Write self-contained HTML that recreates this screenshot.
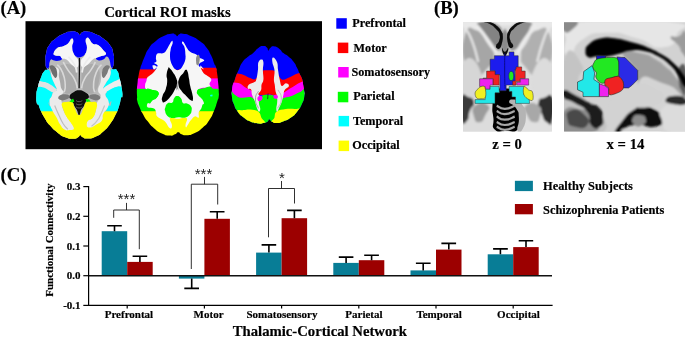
<!DOCTYPE html>
<html><head><meta charset="utf-8"><title>Figure</title>
<style>
html,body{margin:0;padding:0;background:#fff;}
body{width:685px;height:337px;overflow:hidden;font-family:"Liberation Serif",serif;}
svg{display:block;will-change:transform;}
text{font-family:"Liberation Serif",serif;font-weight:bold;fill:#000;stroke:#000;stroke-width:0.18px;}
.s{font-family:"Liberation Sans",sans-serif;font-weight:normal;fill:#222;stroke:none;}
</style></head><body>
<svg width="685" height="337" viewBox="0 0 685 337">
<rect width="685" height="337" fill="#fff"/>

<text x="0.5" y="14" font-size="18.6">(A)</text>
<text x="434" y="14.3" font-size="18.6">(B)</text>
<text x="0.5" y="181.4" font-size="18.8">(C)</text>
<text x="104.2" y="16.8" font-size="14.8">Cortical ROI masks</text>
<rect x="25.5" y="21.2" width="296.5" height="128" fill="#000"/>
<defs><filter id="bl" x="-5%" y="-5%" width="110%" height="110%"><feGaussianBlur stdDeviation="0.45"/></filter>
<clipPath id="c1"><path d="M79.7 34.8C77.9 34.8 80.1 33.5 77.0 32.3C74.0 31.2 74.9 31.0 70.5 31.4C66.1 31.9 68.7 31.4 63.9 33.6C59.1 35.9 60.8 34.5 56.0 38.2C51.2 42.0 52.7 39.9 49.5 44.8C46.2 49.7 47.5 47.6 46.2 53.0C44.9 58.3 45.4 55.8 45.5 60.8C45.6 65.9 45.4 65.8 46.6 68.1C47.7 70.4 48.6 67.3 48.9 67.8C49.3 68.3 49.2 68.5 47.6 69.6C46.0 70.8 46.5 68.4 44.2 71.2C41.9 74.0 42.9 72.8 40.8 78.0C38.7 83.3 39.4 81.1 37.9 87.0C36.4 92.8 36.6 89.8 36.3 95.5C36.0 101.2 36.3 101.0 37.0 104.0C37.6 107.1 37.0 102.2 38.3 104.6C39.6 106.9 38.7 106.5 40.9 111.1C43.1 115.7 41.8 113.5 44.9 118.4C47.9 123.2 45.9 120.9 50.1 125.6C54.3 130.3 52.3 128.6 57.3 132.4C62.4 136.3 60.0 135.1 65.2 137.2C70.5 139.3 68.8 138.7 73.1 138.7C77.4 138.7 75.7 138.3 78.1 137.2C80.5 136.0 78.8 135.3 80.3 135.3C81.8 135.3 80.2 136.1 82.6 137.2C85.0 138.2 83.3 138.6 87.6 138.5C91.8 138.3 90.2 139.1 95.4 136.8C100.7 134.4 98.5 135.7 103.3 131.5C108.1 127.3 105.9 129.8 109.9 124.3C113.9 118.8 112.3 121.2 115.4 115.1C118.5 108.9 117.2 111.6 119.1 105.9C121.0 100.2 120.0 101.2 121.1 98.0C122.2 94.8 122.2 99.4 122.4 96.2C122.6 92.9 122.6 94.0 121.7 88.3C120.8 82.6 121.3 84.9 119.7 79.1C118.2 73.2 119.3 73.9 117.1 70.7C115.0 67.4 115.3 70.2 113.3 69.4C111.3 68.5 111.4 68.7 111.2 68.0C111.0 67.4 111.9 69.8 112.8 67.4C113.7 65.0 113.7 65.7 113.8 60.8C114.0 56.0 114.5 58.2 113.2 53.0C111.9 47.7 113.2 49.9 109.9 45.1C106.6 40.3 108.1 42.2 103.3 38.5C98.5 34.8 100.7 36.2 95.4 33.9C90.2 31.6 91.9 32.1 87.6 31.5C83.2 31.0 84.9 31.2 82.3 32.3C79.7 33.4 81.4 34.8 79.7 34.8Z"/></clipPath>
</defs>
<g filter="url(#bl)">
<g clip-path="url(#c1)">
<rect x="30" y="25" width="100" height="120" fill="#bababa"/>
<rect x="30" y="25" width="100" height="44.5" fill="#0000ff"/>
<rect x="30" y="68.8" width="100" height="43" fill="#00ffff"/>
<rect x="30" y="111.3" width="100" height="40" fill="#ffff00"/>
<path d="M71.1 38.8C69.9 39.6 69.8 42.0 67.8 43.8C65.9 45.5 65.0 45.5 62.6 46.4C60.1 47.3 59.4 46.2 57.3 47.7C55.3 49.2 54.2 50.9 53.7 52.7C53.1 54.5 53.5 54.8 55.0 55.6C56.4 56.4 58.3 55.4 60.0 56.1C61.6 56.9 62.4 57.6 62.1 58.7C61.8 59.8 60.7 60.5 58.6 60.8C56.6 61.2 55.1 60.7 53.4 60.3C51.7 60.0 52.2 58.8 51.3 59.3C50.4 59.8 50.0 60.5 49.5 62.4C48.9 64.3 49.6 65.9 48.9 67.4C48.3 68.9 46.4 68.1 46.6 68.8C46.7 69.6 48.3 68.9 49.5 70.7C50.6 72.4 50.1 73.3 51.3 76.5C52.5 79.6 53.5 81.2 54.7 84.3C56.0 87.5 57.0 88.1 56.7 89.9C56.4 91.6 54.5 90.2 53.4 91.7C52.3 93.2 52.1 94.0 51.8 96.2C51.6 98.3 52.7 98.5 52.3 100.8C52.0 103.1 51.2 105.7 50.2 106.0C49.3 106.3 47.8 101.7 48.1 101.9C48.4 102.2 50.0 104.9 51.6 107.2C53.1 109.5 51.5 110.4 54.7 111.7C57.9 113.0 60.9 112.5 65.2 112.7C69.5 113.0 69.9 111.8 73.1 112.7C76.4 113.6 76.2 116.7 79.1 116.7C82.1 116.7 82.1 113.6 85.6 112.7C89.1 111.8 89.7 113.0 94.1 112.7C98.6 112.5 101.4 113.2 104.6 111.7C107.9 110.1 106.4 108.7 107.9 106.1C109.5 103.6 110.7 100.9 111.2 100.9C111.7 100.9 110.9 106.1 109.9 106.0C108.8 105.9 107.8 102.9 106.7 100.4C105.7 97.8 105.4 97.3 105.4 95.1C105.4 93.0 107.2 92.6 106.7 91.2C106.2 89.7 103.5 90.8 103.3 88.9C103.1 87.0 104.4 85.9 105.9 83.0C107.5 80.1 108.8 79.2 109.9 76.5C111.0 73.7 110.1 73.0 110.5 71.2C111.0 69.4 111.9 70.0 112.0 68.8C112.1 67.6 111.4 68.3 110.8 66.1C110.2 63.9 110.3 61.8 109.4 59.5C108.4 57.3 108.1 56.4 106.7 56.4C105.3 56.4 105.3 58.6 103.3 59.5C101.3 60.4 99.7 60.6 98.1 60.2C96.4 59.8 95.6 58.6 96.2 57.7C96.8 56.8 98.4 57.0 100.7 56.2C103.0 55.5 105.3 55.7 105.9 54.3C106.6 52.9 105.2 52.5 103.3 50.3C101.5 48.2 100.5 46.6 98.1 45.1C95.6 43.5 95.0 45.3 92.8 43.8C90.7 42.2 90.2 39.9 88.9 38.5C87.5 37.1 87.8 37.3 87.0 37.7C86.3 38.2 85.6 38.2 85.6 40.5C85.6 42.8 87.1 44.5 86.9 47.7C86.7 50.9 86.5 52.1 84.9 54.3C83.4 56.5 82.5 56.7 80.3 57.2C78.2 57.6 77.6 57.5 75.7 56.2C73.9 55.0 73.4 53.9 72.4 51.6C71.5 49.4 71.6 49.1 71.8 46.4C71.9 43.7 73.3 41.9 73.1 40.1C72.9 38.3 72.4 37.9 71.1 38.8Z" fill="#bababa"/>
<path d="M71.5 39.0C73.0 38.3 73.2 38.8 73.4 41.1C73.6 43.5 72.0 44.0 72.3 47.7C72.6 51.4 72.8 51.4 74.4 54.9C76.0 58.4 77.7 57.5 78.4 60.8C79.1 64.2 78.8 66.4 77.0 67.4C75.3 68.5 74.6 66.9 71.8 64.8C69.0 62.7 69.2 61.2 66.5 59.5C63.9 57.9 63.7 59.4 61.9 58.5C60.2 57.6 61.8 57.0 60.0 56.1C58.1 55.3 56.6 56.2 55.0 55.3C53.4 54.4 53.2 54.7 53.9 52.7C54.6 50.7 55.2 49.7 57.6 48.0C60.0 46.3 60.1 47.5 62.9 46.4C65.6 45.3 65.5 45.7 67.8 43.8C70.2 41.8 70.1 39.7 71.5 39.0Z" fill="#f6f6f6"/><path d="M87.3 38.0C86.4 38.5 85.8 38.3 85.7 40.9C85.6 43.5 87.2 44.0 87.0 47.7C86.8 51.5 86.5 51.4 84.9 54.9C83.3 58.4 81.6 57.5 81.0 60.8C80.4 64.2 80.8 66.4 82.6 67.4C84.3 68.5 84.8 66.9 87.6 64.8C90.3 62.7 90.5 61.4 92.8 59.5C95.1 57.7 94.1 58.8 96.2 58.0C98.3 57.1 98.1 57.2 100.7 56.2C103.3 55.3 105.2 55.9 105.9 54.3C106.6 52.7 105.4 52.8 103.3 50.3C101.2 47.9 100.9 46.8 98.1 45.1C95.3 43.3 95.2 45.4 92.8 43.8C90.4 42.1 90.6 40.3 89.1 38.8C87.7 37.2 88.2 37.4 87.3 38.0Z" fill="#f6f6f6"/>
<path d="M51.8 69.9C50.6 72.3 50.8 72.6 51.6 76.5C52.3 80.3 53.3 80.8 54.7 84.3C56.1 87.9 57.1 87.9 56.8 89.9C56.5 91.8 55.0 90.1 53.7 91.7C52.3 93.3 52.9 93.3 51.8 95.9C50.7 98.5 49.4 97.7 49.5 101.4C49.5 105.1 50.2 105.5 52.1 109.8C54.0 114.2 54.6 113.9 56.7 117.7C58.8 121.6 57.9 121.1 60.0 124.3C62.1 127.4 62.0 128.0 64.6 129.5C67.1 131.1 66.9 130.4 69.4 130.1C71.9 129.7 73.6 130.3 73.9 128.2C74.2 126.2 72.4 125.5 70.5 122.3C68.5 119.2 68.5 119.7 66.5 116.4C64.6 113.1 64.5 113.3 63.2 109.8C62.0 106.3 62.5 106.9 61.9 103.3C61.4 99.6 60.8 99.6 61.3 96.2C61.8 92.7 63.9 94.1 63.9 90.2C63.9 86.4 62.3 86.4 61.3 81.7C60.2 77.0 61.4 76.4 60.0 72.5C58.6 68.7 58.2 68.0 56.0 67.3C53.8 66.6 53.0 67.4 51.8 69.9Z" fill="#ebebeb"/><path d="M110.2 69.9C111.2 72.3 111.0 72.9 109.9 76.5C108.8 80.0 107.7 79.7 105.9 83.0C104.2 86.4 103.1 86.8 103.3 88.9C103.5 91.1 106.2 89.5 106.7 91.2C107.3 92.8 104.9 92.4 105.4 95.1C105.9 97.8 107.9 98.2 108.6 101.4C109.2 104.6 109.3 103.9 107.9 107.2C106.5 110.5 104.9 110.3 103.3 113.8C101.7 117.3 103.8 117.5 102.0 120.3C100.3 123.1 99.9 122.4 96.8 124.3C93.6 126.2 92.9 127.4 90.2 127.6C87.4 127.7 87.1 126.8 86.5 124.9C85.9 123.1 86.4 122.5 88.1 120.6C89.8 118.7 90.8 120.2 92.8 117.7C94.8 115.2 94.6 115.0 95.7 111.1C96.8 107.3 95.4 107.2 96.8 103.3C98.1 99.3 100.3 99.6 100.7 96.2C101.0 92.7 98.1 94.1 98.1 90.2C98.1 86.4 99.6 86.4 100.7 81.7C101.7 77.0 100.6 76.4 102.0 72.5C103.4 68.7 103.8 68.0 105.9 67.3C108.1 66.6 109.1 67.4 110.2 69.9Z" fill="#ebebeb"/>
<path d="M54.7 105.4C56.0 108.4 55.8 108.4 58.6 114.6C61.5 120.7 60.2 118.8 63.2 123.8C66.3 128.7 66.3 127.4 67.8 129.3" stroke="#bdbdbd" stroke-width="1.2" fill="none"/>
<path d="M104.6 105.4C103.3 108.4 103.3 109.3 100.7 114.6C98.1 119.8 99.8 117.2 96.8 121.1C93.7 125.1 93.2 124.6 91.5 126.4" stroke="#c4c4c4" stroke-width="1.2" fill="none"/>
<path d="M37.9 81.7C39.5 80.3 40.0 81.2 42.9 81.7C45.8 82.2 45.5 81.9 48.7 83.5C51.8 85.2 52.5 86.0 54.7 87.8C56.9 89.5 57.2 88.9 56.8 90.1C56.5 91.3 55.4 92.1 53.4 92.2C51.4 92.3 51.4 91.5 49.2 90.4C46.9 89.3 47.4 89.0 45.0 88.0C42.6 87.0 42.4 87.0 40.3 86.7C38.1 86.4 37.5 88.3 36.8 87.0C36.2 85.6 36.3 83.1 37.9 81.7Z" fill="#e2e2e2"/>
<path d="M122.0 79.3C120.3 77.9 119.7 79.2 116.5 80.4C113.2 81.6 113.3 81.8 109.9 83.8C106.5 85.8 105.6 86.3 103.8 88.0C102.1 89.7 102.6 89.2 103.3 90.1C104.1 91.0 104.3 91.9 106.7 91.4C109.2 90.9 109.6 89.6 112.5 88.3C115.5 86.9 115.0 87.1 117.8 86.4C120.5 85.7 121.6 87.5 122.8 85.6C123.9 83.8 123.7 80.7 122.0 79.3Z" fill="#ededed"/>
<path d="M49.7 65.9C50.8 65.1 52.7 65.0 54.7 66.7C56.7 68.5 56.7 69.6 57.1 72.5C57.4 75.5 57.1 77.1 56.0 77.8C54.9 78.5 54.3 77.2 52.9 75.1C51.5 73.0 51.6 72.3 50.8 69.9C49.9 67.4 48.7 66.8 49.7 65.9Z" fill="#6e6e6e"/>
<path d="M109.4 65.9C108.3 65.1 106.3 65.0 104.4 66.7C102.4 68.5 102.4 69.6 102.0 72.5C101.7 75.5 101.9 77.1 103.1 77.8C104.2 78.5 104.8 77.2 106.2 75.1C107.6 73.0 107.5 72.3 108.3 69.9C109.2 67.4 110.4 66.8 109.4 65.9Z" fill="#7a7a7a"/>
<path d="M63.2 64.6C67.3 63.6 70.7 63.8 74.4 67.3C78.2 70.8 76.7 72.2 77.3 77.8C77.9 83.4 78.3 84.1 76.5 88.3C74.7 92.5 74.0 92.8 70.5 93.5C66.9 94.2 66.1 94.1 63.2 90.9C60.4 87.8 61.0 87.0 60.0 81.7C58.9 76.5 58.4 75.8 59.3 71.2C60.2 66.6 59.2 65.7 63.2 64.6Z" fill="#aaaaaa"/>
<path d="M95.4 64.6C91.4 63.6 88.1 63.8 84.4 67.3C80.7 70.8 82.1 72.2 81.5 77.8C81.0 83.4 80.5 84.1 82.3 88.3C84.1 92.5 84.8 92.8 88.3 93.5C91.8 94.2 92.6 94.1 95.4 90.9C98.2 87.8 97.8 87.0 98.9 81.7C99.9 76.5 100.3 75.8 99.4 71.2C98.5 66.6 99.4 65.7 95.4 64.6Z" fill="#aaaaaa"/>
<path d="M63.2 62.0C64.8 64.6 64.1 64.2 67.8 69.9C71.6 75.6 71.3 72.9 74.4 79.1C77.6 85.2 76.3 85.2 77.3 88.3" stroke="#d8d8d8" stroke-width="1.6" fill="none"/>
<path d="M57.3 64.6C59.1 67.3 60.0 65.9 62.6 72.5C65.2 79.1 64.7 77.8 65.2 84.3C65.7 90.9 64.5 89.6 64.2 92.2" stroke="#d8d8d8" stroke-width="1.6" fill="none"/>
<path d="M95.4 62.0C93.9 64.6 94.6 64.2 91.0 69.9C87.3 75.6 87.6 72.9 84.4 79.1C81.2 85.2 82.5 85.2 81.5 88.3" stroke="#d8d8d8" stroke-width="1.6" fill="none"/>
<path d="M101.5 64.6C99.7 67.3 98.9 65.9 96.2 72.5C93.6 79.1 94.1 77.8 93.6 84.3C93.1 90.9 94.3 89.6 94.6 92.2" stroke="#d8d8d8" stroke-width="1.6" fill="none"/>
<path d="M68.5 56.7C70.5 59.4 71.7 59.4 74.4 64.6C77.2 69.9 76.0 69.9 76.8 72.5" stroke="#ececec" stroke-width="1.8" fill="none"/>
<path d="M90.2 56.7C88.3 59.4 87.1 59.4 84.4 64.6C81.7 69.9 82.8 69.9 82.0 72.5" stroke="#ececec" stroke-width="1.8" fill="none"/>
<path d="M79.4 58.1C79.4 62.0 79.5 59.8 79.4 69.9C79.3 80.0 79.2 82.1 79.1 88.3" stroke="#111" stroke-width="1.3" fill="none"/>
<path d="M73.1 92.5C75.7 90.8 75.9 90.2 79.1 90.2C82.4 90.2 82.9 90.8 85.5 92.5C88.0 94.1 88.6 94.4 88.9 96.4C89.1 98.5 87.8 97.5 86.5 100.1C85.2 102.7 85.3 103.4 83.9 106.0C82.5 108.6 82.5 107.4 81.2 109.8C80.0 112.2 80.3 115.1 79.1 115.1C78.0 115.1 78.0 112.2 76.8 109.8C75.5 107.4 75.7 108.5 74.4 106.0C73.2 103.5 73.4 102.9 72.1 100.4C70.7 97.9 69.1 98.8 69.4 96.7C69.7 94.6 70.5 94.2 73.1 92.5Z" fill="#0a0a0a"/>
<path d="M58.6 96.4C59.8 94.9 62.3 94.3 65.2 94.3C68.1 94.3 69.1 95.1 69.4 96.4C69.8 97.8 68.8 98.3 66.5 99.3C64.2 100.3 62.9 100.9 60.8 100.1C58.6 99.3 57.5 98.0 58.6 96.4Z" fill="#7a7a7a"/>
<path d="M99.9 96.4C98.7 94.9 96.2 94.3 93.3 94.3C90.5 94.3 89.5 95.1 89.1 96.4C88.8 97.8 89.7 98.3 92.0 99.3C94.3 100.3 95.7 100.9 97.8 100.1C99.9 99.3 101.1 98.0 99.9 96.4Z" fill="#7a7a7a"/>
<path d="M76.0 100.6C77.0 101.0 77.0 101.7 79.1 101.7C81.2 101.7 81.2 101.0 82.3 100.6" stroke="#777" stroke-width="0.8" fill="none"/>
<path d="M76.0 103.8C77.0 104.1 77.0 104.8 79.1 104.8C81.2 104.8 81.2 104.1 82.3 103.8" stroke="#777" stroke-width="0.8" fill="none"/>
<path d="M76.0 106.9C77.0 107.3 77.0 108.0 79.1 108.0C81.2 108.0 81.2 107.3 82.3 106.9" stroke="#777" stroke-width="0.8" fill="none"/>
<path d="M69.4 101.4L73.1 98.5L74.4 101.4L71.8 103.0Z" fill="#00ff00"/>
<path d="M85.7 99.1L89.1 99.6L90.7 101.7L86.5 101.9Z" fill="#00ff00"/>
<path d="M61.9 103.3C62.7 101.6 64.0 102.1 66.5 101.9C69.0 101.8 70.7 101.5 72.6 102.7C74.4 104.0 72.9 104.3 74.4 107.2C75.9 110.1 76.9 115.3 79.1 115.3C81.4 115.3 82.3 110.1 83.9 107.2C85.4 104.3 83.9 104.0 85.7 102.7C87.5 101.5 88.9 101.8 91.5 101.9C94.1 102.1 95.8 101.1 96.8 103.3C97.7 105.4 96.6 107.8 95.7 111.1C94.8 114.5 94.6 115.5 92.8 117.7C91.0 119.9 89.6 118.9 88.1 120.6C86.6 122.3 87.2 122.5 86.5 124.9C85.8 127.3 86.4 128.9 84.9 130.8C83.5 132.8 82.5 133.5 80.3 133.5C78.2 133.5 77.2 132.2 75.7 130.8C74.2 129.5 75.1 129.8 73.9 127.7C72.7 125.5 72.2 124.3 70.5 121.6C68.8 119.0 68.2 119.3 66.5 116.4C64.8 113.5 64.2 112.1 63.1 109.0C62.0 106.0 61.1 104.9 61.9 103.3Z" fill="#ffff00"/>
</g></g>
<defs><clipPath id="c2"><path d="M177.1 36.3C175.9 36.3 177.3 35.3 175.3 34.5C173.3 33.6 175.1 33.1 171.1 33.7C167.1 34.3 168.5 33.7 163.2 36.3C158.0 38.9 160.2 37.5 155.3 41.6C150.5 45.6 152.3 43.5 148.8 48.4C145.3 53.3 147.2 51.0 144.8 56.3C142.5 61.5 143.2 60.3 141.7 64.2C140.2 68.0 141.3 64.5 140.4 67.9C139.4 71.4 139.7 69.7 138.8 74.5C137.9 79.3 138.2 77.1 137.6 82.4C137.0 87.6 137.1 85.5 136.9 90.3C136.8 95.1 137.0 93.4 137.1 96.8C137.2 100.3 136.4 97.2 137.2 100.6C138.0 104.1 137.7 102.7 139.6 107.2C141.5 111.7 140.2 109.4 142.9 114.0C145.5 118.7 143.7 116.4 147.5 121.1C151.2 125.9 149.2 124.1 154.0 128.2C158.8 132.3 156.6 131.0 161.9 133.5C167.2 135.9 165.4 135.3 169.8 135.6C174.2 135.8 172.2 135.4 175.0 134.3C177.9 133.1 176.1 132.2 178.3 132.2C180.5 132.2 178.8 133.3 181.6 134.3C184.5 135.3 182.5 135.6 186.9 135.2C191.2 134.7 189.5 135.4 194.8 132.9C200.0 130.5 197.8 131.9 202.6 127.7C207.5 123.5 205.4 125.9 209.2 120.3C213.0 114.8 211.3 117.3 213.9 111.1C216.6 105.0 215.5 106.7 217.1 101.9C218.7 97.2 218.1 100.7 218.7 96.8C219.2 93.0 218.8 95.1 218.7 90.3C218.5 85.5 218.7 88.1 218.1 82.4C217.6 76.7 217.9 78.5 217.1 73.2C216.3 67.9 216.7 69.9 215.8 66.6C214.8 63.4 215.7 67.2 214.2 63.5C212.7 59.8 213.7 60.9 211.2 55.6C208.6 50.4 210.3 52.6 206.6 47.7C202.9 42.9 205.3 45.1 200.0 41.2C194.8 37.2 196.5 38.4 190.8 35.9C185.1 33.4 186.9 34.2 182.9 33.7C179.0 33.2 180.9 33.6 179.0 34.5C177.1 35.3 178.4 36.3 177.1 36.3Z"/></clipPath></defs>
<g filter="url(#bl)"><g clip-path="url(#c2)">
<rect x="130" y="25" width="100" height="45" fill="#0000ff"/>
<rect x="130" y="69.4" width="100" height="10" fill="#ff0000"/>
<rect x="130" y="78.4" width="100" height="11" fill="#ff00ff"/>
<rect x="130" y="88.8" width="100" height="23" fill="#00ff00"/>
<rect x="130" y="111.2" width="100" height="30" fill="#ffff00"/>
<path d="M198.7 67.7L219.7 67.7L219.7 70.6L198.7 70.6Z" fill="#ff0000"/>
<path d="M171.9 41.0C170.7 41.8 168.3 47.3 166.6 49.7C165.0 52.1 165.3 52.3 163.5 53.1C161.6 53.9 159.0 52.6 157.4 53.6C155.9 54.6 156.1 56.5 155.9 58.1C155.7 59.7 156.8 60.5 156.4 61.5C156.0 62.5 154.0 62.5 154.0 63.1C154.1 63.7 156.0 63.8 156.6 64.4C157.3 65.1 158.0 65.3 157.4 66.3C156.9 67.3 155.0 69.6 154.0 69.4C153.1 69.2 152.1 65.8 152.7 65.3C153.3 64.8 156.9 65.4 156.9 66.9C157.0 68.4 154.8 70.9 153.0 72.9C151.1 75.0 149.0 75.5 147.7 77.1C146.4 78.8 146.9 79.5 146.4 81.1C145.9 82.7 145.1 83.4 145.1 85.0C145.0 86.6 144.6 88.0 146.1 89.0C147.7 90.0 150.3 89.4 152.7 90.0C155.1 90.6 157.3 90.8 158.2 92.1C159.2 93.5 158.5 95.2 157.4 96.8C156.3 98.5 154.2 98.9 152.7 100.3C151.2 101.6 151.1 102.8 150.1 103.4C149.1 104.0 148.2 102.5 147.7 103.3C147.2 104.0 146.2 106.1 147.5 107.2C148.7 108.3 152.3 107.5 154.0 108.5C155.8 109.6 155.5 110.9 156.1 112.5C156.8 114.0 155.5 114.7 157.2 116.4C158.9 118.1 162.3 119.1 164.5 121.1C166.7 123.1 166.9 124.9 168.2 126.4C169.5 127.9 170.4 128.8 171.1 128.5C171.8 128.2 172.2 126.7 171.9 124.8C171.6 122.9 169.7 120.4 169.8 119.0C169.9 117.6 170.8 117.8 172.4 117.7C174.0 117.7 175.3 118.8 177.7 118.8C180.0 118.8 182.3 117.7 184.2 117.7C186.1 117.8 186.9 117.7 187.1 119.0C187.4 120.3 185.8 122.6 185.6 124.3C185.3 126.0 185.6 127.4 186.1 127.4C186.6 127.4 187.2 125.7 188.2 124.3C189.1 122.9 189.5 121.9 190.8 120.3C192.1 118.8 193.2 116.9 194.8 116.4C196.3 115.9 197.9 118.5 198.7 117.7C199.5 116.9 198.2 114.3 198.7 112.5C199.2 110.6 200.5 110.1 201.3 108.5C202.1 106.9 202.1 105.6 202.6 104.6C203.2 103.6 204.0 104.4 203.9 103.4C203.9 102.4 203.4 101.1 202.4 99.5C201.3 97.9 199.7 97.2 198.7 95.5C197.6 93.9 196.9 92.5 197.1 91.1C197.4 89.6 198.1 89.1 200.0 88.4C201.9 87.8 204.5 88.0 206.6 87.6C208.7 87.3 209.9 87.4 210.5 86.6C211.1 85.8 209.3 85.0 209.5 83.7C209.6 82.4 211.4 81.3 211.3 80.0C211.3 78.7 210.7 78.5 209.2 77.1C207.7 75.8 205.5 75.0 203.9 73.5C202.4 71.9 202.1 70.8 201.3 69.3C200.6 67.7 199.7 65.5 200.3 65.6C200.8 65.6 203.7 68.9 203.9 69.4C204.2 69.9 202.4 68.9 201.3 68.1C200.3 67.3 198.9 66.5 198.7 65.5C198.5 64.4 199.2 63.9 200.3 62.8C201.4 61.8 204.5 61.3 204.2 60.2C203.9 59.2 200.5 58.7 199.0 57.6C197.4 56.4 198.3 55.7 196.3 54.4C194.4 53.1 191.9 53.5 189.2 51.0C186.6 48.5 184.6 42.9 183.2 41.8C181.8 40.8 181.7 42.9 182.1 45.8C182.6 48.7 185.4 52.3 185.6 56.3C185.7 60.2 184.5 62.7 182.9 65.5C181.4 68.3 179.8 70.2 177.7 70.2C175.6 70.2 173.9 68.3 172.4 65.5C170.9 62.7 170.1 60.2 170.1 56.3C170.1 52.3 172.0 48.8 172.4 45.8C172.8 42.7 173.0 40.2 171.9 41.0Z" fill="#f6f6f6"/>
<path d="M177.1 36.3C175.7 36.3 175.8 37.4 174.8 39.2C173.7 41.0 174.3 40.3 173.2 43.1C172.1 45.9 171.3 45.5 170.6 49.7C169.9 53.9 169.9 55.0 170.6 58.9C171.3 62.8 171.8 61.8 173.2 64.4C174.6 67.1 174.6 67.4 175.8 68.9C177.0 70.4 176.8 70.1 177.7 69.9C178.6 69.8 178.1 69.7 179.2 68.4C180.4 67.0 180.4 67.8 181.9 64.9C183.3 62.1 184.0 62.0 184.8 57.6C185.5 53.2 185.5 52.3 184.8 48.4C184.0 44.5 183.1 45.3 181.9 42.9C180.6 40.4 181.3 40.9 180.0 39.2C178.8 37.4 178.5 36.3 177.1 36.3Z" fill="#0000ff"/>
<path d="M177.1 96.1C175.3 96.1 175.3 96.7 174.0 98.4C172.7 100.1 174.2 101.0 172.4 102.4C170.7 103.7 169.3 102.1 167.4 103.4C165.5 104.7 166.0 105.3 165.3 107.4C164.7 109.4 164.5 108.9 165.1 111.1C165.6 113.4 165.5 114.0 167.4 115.9C169.4 117.7 169.5 117.6 172.4 118.0C175.3 118.3 175.0 117.3 178.2 117.2C181.4 117.1 181.5 118.3 184.5 117.7C187.5 117.1 187.6 117.0 189.5 115.1C191.4 113.2 191.2 113.0 191.6 110.6C191.9 108.2 192.1 108.0 190.8 106.0C189.5 104.1 189.0 104.3 186.9 103.4C184.8 102.6 184.5 104.2 182.9 102.9C181.4 101.6 182.6 100.2 181.1 98.4C179.5 96.6 179.0 96.1 177.1 96.1Z" fill="#00ff00"/>
<path d="M146.1 89.8C147.9 87.2 149.5 89.4 152.7 90.0C155.9 90.6 157.0 90.3 158.2 92.1C159.5 93.9 158.9 94.7 157.4 96.8C156.0 98.9 155.7 99.3 152.7 100.0C149.7 100.7 147.9 102.2 146.1 99.5C144.4 96.7 144.4 92.3 146.1 89.8Z" fill="#00ff00"/>
<path d="M211.8 87.6C209.7 85.3 207.8 87.3 203.9 88.2C200.1 89.0 198.8 88.8 197.4 90.8C196.0 92.8 196.9 93.8 198.7 95.5C200.4 97.3 200.4 97.0 203.9 97.4C207.5 97.7 209.7 99.4 211.8 96.8C213.9 94.3 213.9 90.0 211.8 87.6Z" fill="#00ff00"/>
<path d="M210.0 95.0L212.4 94.5L212.6 96.3L210.5 96.6Z" fill="#00ffff"/>
<path d="M196.9 55.8C197.8 54.4 198.9 54.4 199.5 56.3C200.1 58.2 199.8 60.5 199.2 62.8C198.7 65.2 198.2 65.6 197.4 65.2C196.5 64.9 196.2 64.1 196.1 61.5C195.9 59.0 195.9 57.2 196.9 55.8Z" fill="#8c8c8c"/>
<path d="M168.5 67.7C167.7 69.4 167.0 70.9 166.6 74.5C166.3 78.1 167.4 77.2 167.2 81.1C167.0 84.9 167.0 85.1 165.8 89.0C164.7 92.8 163.7 92.4 162.7 95.5C161.7 98.7 161.5 99.1 162.2 100.8C162.8 102.5 162.7 103.2 165.1 101.8C167.4 100.5 168.4 99.2 171.1 95.8C173.8 92.4 173.4 92.1 175.0 89.2C176.7 86.4 176.8 87.9 177.1 85.0C177.5 82.1 177.5 82.0 176.4 78.5C175.2 74.9 174.5 74.7 172.7 71.9C170.9 69.1 170.6 69.1 169.5 67.9C168.4 66.8 169.2 65.9 168.5 67.7Z" fill="#000"/><path d="M185.8 69.8C184.6 70.1 184.9 70.9 183.2 73.2C181.4 75.5 180.5 75.3 179.2 78.5C178.0 81.6 178.0 81.9 178.5 85.0C179.0 88.2 179.1 87.5 181.1 90.3C183.0 93.1 183.2 92.9 185.8 95.5C188.4 98.2 188.9 99.2 190.8 100.3C192.7 101.3 192.6 101.4 192.9 99.5C193.3 97.5 192.8 96.4 192.1 92.9C191.4 89.4 191.1 90.2 190.3 86.3C189.4 82.5 189.7 82.3 189.0 78.5C188.3 74.6 188.5 74.2 187.7 71.9C186.8 69.6 187.0 69.4 185.8 69.8Z" fill="#000"/>
<path d="M177.1 83.7C176.6 83.7 176.3 88.9 176.4 90.3C176.4 91.7 176.8 89.0 177.4 89.0C178.0 89.0 178.5 91.7 178.5 90.3C178.4 88.9 177.7 83.7 177.1 83.7Z" fill="#999"/>
</g></g>
<defs><clipPath id="c3"><path d="M268.4 50.5C267.3 50.4 268.5 49.1 266.8 47.6C265.2 46.1 266.2 46.0 263.4 46.0C260.6 46.1 261.8 45.6 258.4 47.9C255.0 50.2 256.8 49.8 253.2 52.9C249.6 55.9 251.2 53.9 247.6 57.1C244.1 60.2 245.2 58.4 242.4 62.3C239.5 66.3 241.1 64.7 239.1 68.9C237.1 73.1 238.0 70.9 236.5 74.8C234.9 78.8 235.7 77.5 234.5 80.7C233.3 84.0 233.8 81.6 232.9 84.6C232.1 87.7 232.4 85.9 232.0 89.9C231.7 93.8 231.3 91.6 231.9 96.5C232.5 101.3 231.9 99.3 233.9 104.3C235.8 109.4 234.5 107.3 237.8 111.7C241.1 116.1 239.5 114.2 243.7 117.5C247.9 120.7 245.5 119.4 250.3 121.4C255.1 123.4 253.8 123.0 258.2 123.5C262.5 124.0 260.4 123.6 263.4 123.0C266.5 122.4 265.4 122.8 267.4 121.7C269.3 120.5 267.8 119.6 269.3 119.6C270.9 119.6 269.5 120.5 272.0 121.7C274.4 122.8 272.8 123.1 276.6 123.0C280.3 122.9 278.3 123.3 283.1 121.4C287.9 119.6 286.2 121.0 291.0 117.5C295.8 114.0 294.0 115.3 297.6 110.9C301.2 106.5 299.5 109.2 301.8 104.3C304.0 99.5 303.5 101.3 304.3 96.5C305.0 91.6 304.4 93.8 304.0 89.9C303.6 85.9 303.7 88.1 303.1 84.6C302.5 81.1 303.5 83.1 302.3 79.4C301.1 75.7 301.3 77.4 299.5 73.5C297.8 69.6 298.9 71.5 296.9 67.6C294.9 63.6 296.5 65.4 293.6 61.7C290.8 58.0 291.8 59.3 288.4 56.4C285.0 53.6 286.4 55.6 283.4 53.1C280.4 50.6 282.6 51.2 279.4 48.9C276.3 46.7 277.0 46.7 273.9 46.3C270.9 46.0 272.1 46.5 270.2 47.9C268.4 49.3 269.5 50.6 268.4 50.5Z"/></clipPath></defs>
<g filter="url(#bl)"><g clip-path="url(#c3)">
<rect x="225" y="40" width="90" height="90" fill="#0000ff"/>
<path d="M231.9 74.4C233.5 72.2 234.8 73.5 237.1 73.6C239.5 73.7 241.1 74.1 243.7 74.9C246.3 75.8 247.9 77.3 250.3 78.1C252.6 78.9 253.4 80.2 255.5 78.9C257.6 77.6 258.3 73.3 260.8 71.5C263.3 69.8 265.1 70.2 268.1 70.2C271.2 70.2 273.3 69.7 276.0 71.5C278.8 73.4 279.1 78.3 281.8 79.4C284.5 80.6 286.5 78.5 289.7 77.3C292.8 76.2 294.4 74.5 297.6 73.6C300.7 72.7 303.4 70.1 305.5 72.8C307.6 75.6 309.7 83.6 308.1 87.3C306.5 90.9 302.0 89.9 297.6 91.2C293.1 92.5 290.0 93.0 285.8 93.8C281.5 94.6 280.1 95.0 276.6 95.1C273.0 95.3 271.3 94.6 268.1 94.6C265.0 94.6 264.4 95.6 260.8 95.1C257.2 94.7 254.5 94.4 250.3 92.5C246.1 90.7 244.0 87.5 239.8 85.9C235.6 84.4 230.8 86.9 229.3 84.6C227.7 82.3 230.3 76.6 231.9 74.4Z" fill="#ff0000"/>
<path d="M229.3 83.8C231.1 81.9 235.3 82.4 238.5 83.1C241.6 83.7 242.4 85.7 245.0 87.3C247.6 88.8 249.2 89.4 251.6 90.9C254.0 92.5 254.5 94.2 256.8 95.1C259.2 96.1 261.1 95.8 263.4 95.7C265.8 95.6 266.3 94.6 268.7 94.6C271.0 94.6 272.9 95.7 275.2 95.7C277.6 95.7 278.4 95.5 280.5 94.6C282.6 93.7 283.4 92.7 285.8 91.2C288.1 89.7 289.4 89.0 292.3 87.3C295.2 85.5 297.1 83.6 300.2 82.5C303.4 81.5 306.5 80.0 308.1 82.0C309.7 84.0 310.2 89.9 308.1 92.5C306.0 95.1 302.0 93.8 297.6 95.1C293.1 96.5 290.0 98.2 285.8 99.1C281.5 100.0 281.5 99.5 276.6 99.7C271.6 100.0 266.0 100.7 260.8 100.4C255.5 100.1 254.5 98.9 250.3 98.4C246.1 98.0 244.0 99.2 239.8 98.0C235.6 96.8 231.4 95.3 229.3 92.5C227.2 89.7 227.4 85.7 229.3 83.8Z" fill="#ff00ff"/>
<path d="M229.3 92.0C230.3 85.8 232.3 93.5 234.5 94.6C236.7 95.8 237.1 97.3 240.3 97.8C243.4 98.2 247.0 96.5 250.3 97.0C253.6 97.5 254.5 100.4 256.8 100.1C259.2 99.9 259.8 96.7 262.1 95.7C264.4 94.6 265.8 94.9 268.1 94.9C270.5 94.9 272.0 94.8 273.9 95.7C275.9 96.6 275.8 98.9 277.9 99.3C280.0 99.8 281.5 98.5 284.4 97.8C287.3 97.0 289.2 96.8 292.3 95.7C295.5 94.5 297.1 93.1 300.2 92.0C303.4 90.8 306.5 83.2 308.1 89.9C309.7 96.6 323.9 118.3 308.1 125.4C292.3 132.5 245.0 132.0 229.3 125.4C213.5 118.7 228.2 98.1 229.3 92.0Z" fill="#00ff00"/>
<path d="M235.8 111.7C238.2 108.6 240.8 110.5 243.7 110.1C246.6 109.7 247.3 109.3 250.3 109.6C253.2 109.9 256.2 110.1 258.4 111.7C260.6 113.3 260.3 114.7 261.3 117.5C262.3 120.2 269.3 123.8 263.4 125.4C257.5 126.9 237.4 128.1 231.9 125.4C226.4 122.6 233.5 114.7 235.8 111.7Z" fill="#ffff00"/><path d="M302.8 110.4C300.2 107.1 298.4 109.3 294.9 109.1C291.5 108.8 289.4 108.5 285.8 109.1C282.1 109.6 278.8 110.0 276.6 111.7C274.3 113.4 275.2 114.7 274.5 117.5C273.7 120.2 266.1 123.8 272.9 125.4C279.6 126.9 302.1 128.4 308.1 125.4C314.1 122.4 305.5 113.6 302.8 110.4Z" fill="#ffff00"/>
<path d="M261.6 59.4C260.4 59.4 259.3 59.8 258.4 62.3C257.6 64.8 258.4 66.2 257.9 70.2C257.4 74.2 257.1 76.7 256.3 79.4C255.5 82.2 256.2 80.8 254.5 82.0C252.8 83.2 250.5 83.1 249.0 84.6C247.4 86.2 247.4 87.5 247.9 88.6C248.4 89.7 250.1 87.8 251.1 89.4C252.0 90.9 251.2 92.3 252.1 95.1C253.0 98.0 253.9 98.8 255.0 101.7C256.1 104.7 255.9 105.4 256.8 107.8C257.8 110.1 258.2 111.4 258.9 111.7C259.7 111.9 260.3 110.8 260.3 108.8C260.3 106.8 259.1 105.9 258.9 103.0C258.8 100.1 259.6 98.6 259.5 96.5C259.4 94.3 258.1 95.4 258.4 93.8C258.8 92.3 260.3 92.0 261.1 89.9C261.8 87.7 261.0 87.1 261.6 84.6C262.1 82.2 263.1 82.8 263.4 79.4C263.7 76.0 262.9 74.2 262.9 70.2C262.9 66.2 263.7 64.8 263.4 62.3C263.1 59.8 262.7 59.4 261.6 59.4Z" fill="#ececec"/><path d="M273.1 57.6C272.0 57.6 272.0 59.4 272.4 62.3C272.7 65.3 274.1 66.2 274.5 70.2C274.8 74.2 273.9 76.0 273.9 79.4C274.0 82.8 274.3 81.9 274.7 84.6C275.1 87.4 275.0 88.4 275.5 91.2C276.1 94.0 276.7 93.7 277.1 96.5C277.4 99.2 277.3 100.3 277.1 103.0C276.9 105.8 276.3 106.3 276.3 108.3C276.3 110.3 276.4 111.8 277.1 111.7C277.8 111.6 278.1 110.1 279.2 107.8C280.3 105.4 280.8 104.7 281.8 101.7C282.8 98.8 282.7 97.9 283.4 95.1C284.1 92.4 283.4 92.0 284.7 89.9C286.0 87.7 288.7 87.5 288.9 85.9C289.2 84.4 287.4 83.3 285.8 83.3C284.1 83.3 283.2 86.9 281.8 85.9C280.4 85.0 280.6 83.1 279.7 79.4C278.8 75.7 278.7 74.2 278.1 70.2C277.5 66.2 278.2 65.3 277.1 62.3C275.9 59.4 274.2 57.6 273.1 57.6Z" fill="#ececec"/>
<path d="M258.4 91.2C257.5 93.8 255.5 93.4 255.5 99.1C255.5 104.8 257.5 105.2 258.4 108.3" stroke="#9a9a9a" stroke-width="0.9" fill="none"/>
<path d="M278.1 89.9C279.2 92.9 281.5 92.9 281.3 99.1C281.1 105.2 278.8 105.2 277.6 108.3" stroke="#b4b4b4" stroke-width="0.9" fill="none"/>
<path d="M257.6 97.5C258.3 96.2 260.1 95.8 261.3 96.2C262.6 96.5 263.0 97.5 262.4 98.8C261.7 100.1 260.2 101.5 258.9 101.2C257.7 100.8 257.0 98.8 257.6 97.5Z" fill="#ff00ff"/>
<path d="M273.7 95.7C274.3 94.8 275.8 94.6 276.8 95.1C277.9 95.7 278.2 96.9 277.6 97.8C277.0 98.7 275.5 99.1 274.5 98.6C273.4 98.0 273.0 96.6 273.7 95.7Z" fill="#ff00ff"/>
<path d="M268.1 93.3C268.0 95.2 267.8 97.2 267.6 99.1" stroke="#222" stroke-width="0.8" fill="none"/>
</g></g>
<rect x="336.3" y="18.2" width="10.5" height="10.5" fill="#0000ff"/>
<text x="352.3" y="26.7" font-size="12.2">Prefrontal</text>
<rect x="337.8" y="42.6" width="10.5" height="10.5" fill="#ff0000"/>
<text x="353.6" y="51.6" font-size="12.2">Motor</text>
<rect x="338.2" y="67.0" width="10.5" height="10.5" fill="#ff00ff"/>
<text x="351.5" y="75.9" font-size="12.2">Somatosensory</text>
<rect x="337.8" y="91.8" width="10.5" height="10.5" fill="#00ff00"/>
<text x="353.3" y="100.3" font-size="12.2">Parietal</text>
<rect x="338.6" y="115.9" width="10.5" height="10.5" fill="#00ffff"/>
<text x="352.9" y="125.0" font-size="12.2">Temporal</text>
<rect x="338.6" y="140.6" width="10.5" height="10.5" fill="#ffff00"/>
<text x="352.3" y="149.2" font-size="12.2">Occipital</text>
<defs><filter id="b1" x="-10%" y="-10%" width="120%" height="120%"><feGaussianBlur stdDeviation="1.3"/></filter><filter id="b2" x="-10%" y="-10%" width="120%" height="120%"><feGaussianBlur stdDeviation="0.55"/></filter><filter id="b4" x="-10%" y="-10%" width="120%" height="120%"><feGaussianBlur stdDeviation="0.9"/></filter><filter id="b3" x="-10%" y="-10%" width="120%" height="120%"><feGaussianBlur stdDeviation="2.2"/></filter><clipPath id="pb1"><rect x="463" y="22.3" width="89" height="109.2"/></clipPath><clipPath id="pb2"><rect x="564" y="22.3" width="121" height="109.2"/></clipPath></defs>
<g clip-path="url(#pb1)">
<rect x="460" y="20" width="96" height="115" fill="#dedede"/>
<g filter="url(#b1)">
<path d="M468.4 20.0C495.5 17.2 519.8 17.2 546.9 20.0C574.0 22.8 554.4 25.1 549.7 28.4C545.0 31.7 546.9 30.7 532.9 29.8C518.9 28.9 524.5 25.6 507.6 25.6C490.8 25.6 496.4 28.9 482.4 29.8C468.4 30.7 470.3 31.7 465.6 28.4C460.9 25.1 441.3 22.8 468.4 20.0Z" fill="#e9e9e9"/>
<path d="M479.6 22.0C484.5 20.1 487.4 19.3 495.0 23.4C502.7 27.4 500.5 26.9 502.6 34.0C504.8 41.1 503.4 39.3 501.5 44.7C499.5 50.0 501.4 51.7 496.7 50.0C492.0 48.3 492.9 46.6 487.5 39.6C482.0 32.6 483.1 34.9 480.5 29.0C477.8 23.1 474.8 23.8 479.6 22.0Z" fill="#838383"/>
<path d="M529.8 22.0C525.5 20.1 523.5 19.3 516.6 23.4C509.7 27.4 511.5 26.9 509.1 34.0C506.6 41.1 507.6 39.3 509.3 44.7C511.0 50.0 509.6 51.7 514.1 50.0C518.6 48.3 517.6 46.6 522.8 39.6C527.9 32.6 527.2 34.9 529.5 29.0C531.8 23.1 534.1 23.8 529.8 22.0Z" fill="#8e8e8e"/>
<path d="M465.0 35.4C468.8 23.5 469.3 27.6 476.8 30.4C484.3 33.2 481.7 35.0 487.5 43.8C493.3 52.6 494.0 48.8 494.2 56.7C494.4 64.7 494.3 61.2 488.0 67.6C481.8 74.1 482.9 76.5 475.4 76.1C467.9 75.6 469.1 79.8 465.6 66.2C462.1 52.7 461.3 47.4 465.0 35.4Z" fill="#a6a6a6"/>
<path d="M549.7 35.4C545.4 23.5 544.6 27.6 536.8 30.4C529.0 33.2 531.7 35.5 526.4 43.8C521.2 52.1 521.3 47.4 521.1 55.3C520.9 63.3 520.1 60.7 525.9 67.6C531.7 74.6 530.5 76.5 538.5 76.1C546.4 75.6 546.0 79.8 549.7 66.2C553.4 52.7 554.0 47.4 549.7 35.4Z" fill="#b0b0b0"/>
<path d="M502.9 32.6C504.8 27.5 505.2 27.5 507.1 32.6C509.0 37.8 509.1 41.5 508.5 48.0C507.8 54.6 507.5 52.2 505.1 52.2C502.8 52.2 502.2 54.6 501.5 48.0C500.7 41.5 501.0 37.8 502.9 32.6Z" fill="#8a8a8a"/>
<path d="M476.8 25.6C480.1 29.8 480.0 29.1 486.6 38.2C493.3 47.4 493.4 48.1 496.7 53.1" stroke="#ececec" stroke-width="3.2" fill="none"/>
<path d="M535.7 25.6C532.4 29.8 531.9 29.1 525.9 38.2C519.8 47.4 520.3 48.1 517.5 53.1" stroke="#ececec" stroke-width="3.2" fill="none"/>
<path d="M465.6 28.4C467.9 33.1 468.4 31.2 472.6 42.4C476.8 53.6 476.4 55.5 478.2 62.0" stroke="#ececec" stroke-width="2.0" fill="none"/>
<path d="M548.3 28.4C546.4 33.1 546.4 31.2 542.7 42.4C538.9 53.6 538.9 55.5 537.1 62.0" stroke="#ececec" stroke-width="2.0" fill="none"/>
<path d="M462.8 63.4C468.4 54.1 474.9 57.8 479.6 69.0C484.3 80.2 482.4 87.7 476.8 97.0C471.2 106.4 467.5 108.3 462.8 97.0C458.1 85.8 457.2 72.8 462.8 63.4Z" fill="#d6d6d6"/>
<path d="M551.1 63.4C545.5 54.1 539.4 57.8 534.3 69.0C529.1 80.2 530.1 87.7 535.7 97.0C541.3 106.4 546.0 108.3 551.1 97.0C556.2 85.8 556.7 72.8 551.1 63.4Z" fill="#dcdcdc"/>
<path d="M462.8 104.0C472.6 94.7 481.5 94.7 492.2 104.0C503.0 113.4 504.8 122.7 495.0 132.0C485.2 141.4 473.5 141.4 462.8 132.0C452.1 122.7 453.0 113.4 462.8 104.0Z" fill="#dcdcdc"/>
<path d="M551.1 104.0C541.8 94.7 533.3 94.7 523.1 104.0C512.8 113.4 510.9 122.7 520.3 132.0C529.6 141.4 540.8 141.4 551.1 132.0C561.4 122.7 560.4 113.4 551.1 104.0Z" fill="#e0e0e0"/>
<path d="M461.4 98.4C463.7 90.9 464.2 95.6 468.4 97.0C472.6 98.4 473.5 97.9 474.0 102.6C474.5 107.3 472.1 104.9 469.8 111.0C467.5 117.1 469.8 118.0 467.0 120.8C464.2 123.6 463.3 126.9 461.4 119.4C459.5 112.0 459.1 105.9 461.4 98.4Z" fill="#3a3a3a"/>
<path d="M552.5 98.4C549.7 91.2 548.8 96.4 544.1 97.8C539.4 99.2 539.4 97.8 538.5 102.6C537.5 107.5 538.5 105.9 541.3 112.4C544.1 119.0 543.2 119.9 546.9 122.2C550.6 124.6 550.6 127.4 552.5 119.4C554.4 111.5 555.3 105.6 552.5 98.4Z" fill="#2e2e2e"/>
<path d="M475.4 105.4C480.1 101.7 484.8 102.1 488.0 105.4C491.3 108.7 488.0 109.6 485.2 115.2C482.4 120.8 483.4 121.8 479.6 122.2C475.9 122.7 475.4 122.2 474.0 116.6C472.6 111.0 470.7 109.2 475.4 105.4Z" fill="#9c9c9c"/>
<path d="M538.5 105.4C533.8 101.7 529.6 102.1 525.9 105.4C522.1 108.7 524.5 109.6 527.3 115.2C530.1 120.8 530.1 121.8 534.3 122.2C538.5 122.7 538.5 122.2 539.9 116.6C541.3 111.0 543.2 109.2 538.5 105.4Z" fill="#a8a8a8"/>
</g><g filter="url(#b2)">
<path d="M482.4 21.4C483.4 22.2 486.5 22.1 490.1 24.2C493.8 26.3 493.7 26.5 496.2 29.2C498.7 32.0 498.8 31.4 499.5 34.6C500.3 37.7 499.9 38.2 499.0 41.0C498.1 43.9 496.7 43.3 496.2 45.2C495.6 47.2 496.0 47.5 497.0 48.3C498.0 49.1 498.5 49.5 499.8 48.3C501.1 47.1 500.9 46.9 501.8 43.8C502.6 40.8 503.0 40.1 502.9 36.8C502.8 33.5 503.0 34.3 501.5 31.5C500.0 28.7 500.0 28.6 497.3 26.2C494.6 23.8 494.3 23.9 491.4 22.5C488.5 21.2 488.7 21.4 486.3 21.1C484.0 20.8 481.4 20.6 482.4 21.4Z" fill="#0c0c0c"/>
<path d="M527.6 21.4C526.6 22.1 523.6 22.1 520.0 23.9C516.4 25.8 516.7 25.7 514.1 28.4C511.5 31.1 511.1 30.7 510.2 34.0C509.2 37.3 509.7 37.9 510.5 40.7C511.2 43.6 512.5 42.9 513.0 44.7C513.5 46.5 513.3 46.7 512.4 47.5C511.5 48.2 510.8 48.6 509.6 47.5C508.4 46.3 508.6 46.2 507.9 43.3C507.3 40.3 506.9 39.8 507.1 36.5C507.2 33.3 507.0 34.1 508.5 31.2C510.0 28.4 510.0 28.3 512.7 25.9C515.4 23.5 515.7 23.5 518.6 22.2C521.5 21.0 521.2 21.3 523.6 21.1C526.0 20.9 528.5 20.7 527.6 21.4Z" fill="#0c0c0c"/>
<path d="M502.0 48.0C502.4 46.9 502.8 51.7 504.8 51.7C506.9 51.7 507.7 46.9 508.2 48.0C508.7 49.2 507.7 52.7 506.2 55.0C504.8 57.4 505.1 57.4 503.7 55.0C502.3 52.7 501.7 49.2 502.0 48.0Z" fill="#101010"/>
<path d="M495.0 92.8C499.1 87.2 497.8 88.6 504.8 88.6C511.9 88.6 511.4 89.5 516.1 92.8C520.7 96.1 519.8 95.1 518.9 98.4C517.9 101.7 512.5 99.8 513.3 102.6C514.0 105.4 518.8 101.7 521.1 106.8C523.4 112.0 521.5 110.4 520.3 118.0C519.0 125.7 522.1 125.5 517.5 129.8C512.8 134.1 513.7 130.9 506.2 130.9C498.8 130.9 499.3 134.1 495.0 129.8C490.7 125.5 494.2 126.2 493.4 118.0C492.5 109.9 492.0 113.8 492.5 105.4C493.1 97.0 490.9 98.4 495.0 92.8Z" fill="#060606"/>
<path d="M509.1 101.8C509.1 99.0 511.9 99.1 516.1 99.8C520.3 100.6 518.4 98.9 521.7 104.0C524.9 109.2 525.9 106.4 525.9 115.2C525.9 124.1 524.5 125.5 521.7 130.6C518.9 135.8 518.4 134.8 517.5 130.6C516.5 126.4 519.3 125.5 518.9 118.0C518.4 110.6 519.3 113.6 516.1 108.2C512.8 102.8 509.1 104.6 509.1 101.8Z" fill="#b4b4b4"/>
<path d="M496.7 105.7C499.4 106.7 498.9 108.8 504.8 108.8C510.8 108.8 511.4 106.7 514.7 105.7" stroke="#a8a8a8" stroke-width="2.2" fill="none"/>
<path d="M496.7 111.0C499.4 112.0 498.9 114.1 504.8 114.1C510.8 114.1 511.4 112.0 514.7 111.0" stroke="#a8a8a8" stroke-width="2.2" fill="none"/>
<path d="M496.7 116.6C499.4 117.7 498.9 119.7 504.8 119.7C510.8 119.7 511.4 117.7 514.7 116.6" stroke="#a8a8a8" stroke-width="2.2" fill="none"/>
<path d="M496.7 122.0C499.4 123.0 498.9 125.0 504.8 125.0C510.8 125.0 511.4 123.0 514.7 122.0" stroke="#a8a8a8" stroke-width="2.2" fill="none"/>
<path d="M496.7 126.7C499.4 127.7 498.9 129.8 504.8 129.8C510.8 129.8 511.4 127.7 514.7 126.7" stroke="#a8a8a8" stroke-width="2.2" fill="none"/>
</g><g filter="url(#b2)" stroke="#303030" stroke-width="0.5" stroke-linejoin="round">
<path d="M490.1 59.2L494.3 59.2L494.3 55.7L509.1 55.7L509.1 51.9L514.0 51.9L514.0 55.7L518.2 55.7L518.2 70.4L514.7 70.4L515.5 85.1L506.2 85.1L506.2 90.7L499.9 90.7L499.9 74.9L495.0 74.9L495.0 70.7L490.1 70.7Z" fill="#1a1aee"/>
<path d="M504.8 53.6C504.8 58.7 504.5 57.3 504.6 69.0C504.7 80.7 504.9 82.1 505.1 88.6" stroke="#0a0a90" stroke-width="1" fill="none"/>
<path d="M483.1 78.1L486.6 78.1L486.6 71.1L495.0 71.1L495.0 74.6L499.2 74.6L499.2 85.1L492.9 85.1L492.9 78.8L483.1 78.8Z" fill="#f02020"/>
<path d="M516.1 66.9L521.7 66.9L521.7 71.1L525.2 71.1L525.2 78.5L520.3 78.5L520.3 81.6L516.1 81.6L516.1 85.1L512.6 85.1L512.6 80.9L515.4 80.9L515.4 69.0L516.1 69.0Z" fill="#f02020"/>
<path d="M479.6 78.8L492.9 78.8L492.9 85.1L490.1 85.1L490.1 89.3L485.2 89.3L485.2 86.5L479.6 86.5Z" fill="#ee22ee"/>
<path d="M520.3 78.8L528.7 78.8L528.7 85.1L516.8 85.1L516.8 82.3L520.3 82.3Z" fill="#ee22ee"/>
<ellipse cx="511.2" cy="76.0" rx="2.4" ry="4.6" fill="#20e820"/>
<path d="M485.2 89.3L490.1 89.3L490.1 86.5L499.0 86.5L499.5 92.8L495.0 92.8L495.0 103.4L475.1 103.4L475.1 99.6L485.2 99.6Z" fill="#20e8e8"/>
<path d="M509.1 86.5L524.2 86.5L523.8 94.5L529.0 94.5L529.5 103.4L515.5 103.4L515.5 97.0L511.9 97.0L511.9 91.4L509.1 91.4Z" fill="#20e8e8"/>
<path d="M481.0 86.5C482.6 86.1 484.0 85.4 484.9 87.5C485.8 89.6 486.3 94.8 485.5 97.0C484.7 99.3 482.8 98.6 481.0 98.7C479.2 98.9 477.7 99.0 476.5 97.9C475.4 96.8 475.0 94.7 475.1 93.1C475.2 91.5 475.9 91.1 477.1 89.8C478.3 88.4 479.5 87.0 481.0 86.5Z" fill="#f0f020"/>
<path d="M524.2 86.5C525.2 85.6 527.0 89.0 528.7 90.0C530.3 91.1 531.5 89.8 532.3 91.7C533.2 93.6 533.5 98.0 532.9 99.6C532.2 101.1 530.8 100.6 529.0 99.6C527.1 98.6 524.7 97.1 523.8 94.5C522.8 91.9 523.2 87.4 524.2 86.5Z" fill="#f0f020"/>
</g></g>
<g clip-path="url(#pb2)">
<rect x="560" y="20" width="130" height="115" fill="#d2d2d2"/>
<g filter="url(#b1)">
<path d="M581.9 21.8C616.6 15.1 637.9 17.6 669.5 21.8C701.1 26.1 679.2 26.1 676.8 34.6C674.4 43.1 675.6 46.2 662.2 47.4C648.8 48.6 654.9 43.1 636.6 38.2C618.4 33.4 625.7 32.2 607.4 32.8C589.2 33.4 594.1 32.2 581.9 40.1C569.7 48.0 576.4 55.9 570.9 56.5C565.5 57.1 561.8 53.5 565.5 41.9C569.1 30.3 547.2 28.5 581.9 21.8Z" fill="#e6e6e6"/>
<path d="M561.8 20.0C566.1 16.4 572.8 17.0 576.4 20.0C580.1 23.0 577.0 25.5 572.8 29.1C568.5 32.8 567.3 34.0 563.6 30.9C560.0 27.9 557.6 23.6 561.8 20.0Z" fill="#8a8a8a"/>
<path d="M670.6 37.5C670.6 34.5 673.5 38.0 678.6 36.4C683.7 34.8 682.9 26.7 685.9 32.8C689.0 38.9 689.0 48.0 687.7 54.7C686.5 61.4 685.3 55.9 682.3 52.8C679.2 49.8 682.5 50.7 678.6 45.5C674.7 40.4 670.6 40.6 670.6 37.5Z" fill="#9c9c9c"/>
<path d="M623.9 52.5C627.5 49.1 631.8 51.4 642.1 53.6C652.5 55.8 647.0 54.5 654.9 59.1C662.8 63.6 659.1 61.2 665.8 67.1C672.5 72.9 667.7 66.7 675.0 76.6C682.3 86.4 683.5 81.4 687.7 96.6C692.0 111.8 696.3 117.3 687.7 122.2C679.2 127.1 677.4 119.8 662.2 111.2C647.0 102.7 650.4 107.0 642.1 96.6C633.8 86.3 639.2 88.7 637.4 80.2C635.5 71.7 638.7 76.6 636.6 71.1C634.6 65.6 635.4 70.0 631.2 63.8C626.9 57.6 620.2 55.9 623.9 52.5Z" fill="#a0a0a0"/>
<path d="M640.3 79.3C645.2 73.2 648.8 78.1 662.2 82.9C675.6 87.8 671.9 85.4 680.4 93.9C689.0 102.4 685.3 95.7 687.7 108.5C690.2 121.3 696.3 124.3 687.7 132.2C679.2 140.1 670.7 137.7 662.2 132.2C653.7 126.7 667.1 126.1 662.2 115.8C657.3 105.5 654.9 113.4 647.6 101.2C640.3 89.0 635.4 85.4 640.3 79.3Z" fill="#d4d4d4"/>
<path d="M614.7 93.9C624.5 84.2 619.6 86.6 633.0 84.8C646.4 82.9 645.2 83.6 654.9 88.4C664.6 93.3 664.6 92.7 662.2 99.4C659.8 106.1 658.5 101.8 647.6 108.5C636.6 115.2 638.5 111.3 629.3 119.4C620.2 127.6 629.3 128.4 620.2 132.9C611.1 137.5 607.4 139.3 602.0 132.9C596.5 126.6 599.5 127.0 603.8 114.0C608.1 101.0 605.0 103.6 614.7 93.9Z" fill="#d2d2d2"/>
<path d="M563.6 61.1C569.7 38.3 577.0 57.4 581.9 64.7C586.8 72.0 577.0 71.4 578.2 82.9C579.5 94.5 579.5 90.9 585.5 99.4C591.6 107.9 591.0 97.3 596.5 108.5C602.0 119.7 612.9 124.8 602.0 132.9C591.0 141.1 576.4 156.9 563.6 132.9C550.9 109.0 557.6 83.8 563.6 61.1Z" fill="#c4c4c4"/>
<path d="M563.6 111.2C569.7 103.4 572.8 108.5 581.9 109.4C591.0 110.3 586.2 110.0 591.0 114.0C595.9 117.9 595.9 114.9 596.5 121.3C597.1 127.6 603.8 129.1 592.8 132.9C581.9 136.8 573.4 140.2 563.6 132.9C553.9 125.7 557.6 119.1 563.6 111.2Z" fill="#8e8e8e"/>
<path d="M563.6 90.2C567.9 89.6 567.9 91.6 576.4 95.7C584.9 99.9 581.7 98.6 589.2 102.7C596.7 106.7 594.4 102.8 599.1 107.8C603.7 112.8 602.7 111.3 603.1 117.6C603.4 123.9 604.2 124.3 600.1 126.7C596.1 129.2 595.3 129.8 591.0 124.9C586.8 120.1 592.8 119.4 587.4 112.1C581.9 104.8 582.5 107.9 574.6 103.0C566.7 98.2 567.3 101.8 563.6 97.5C560.0 93.3 559.4 90.9 563.6 90.2Z" fill="#1a1a1a"/>
<path d="M570.9 110.3C576.4 108.5 578.2 109.1 583.7 114.0C589.2 118.8 590.4 120.7 587.4 124.9C584.3 129.2 581.3 128.6 574.6 126.7C567.9 124.9 568.5 124.9 567.3 119.4C566.1 114.0 565.5 112.1 570.9 110.3Z" fill="#4a4a4a"/>
<path d="M633.0 110.3C639.7 105.8 634.8 108.0 642.1 107.8C649.4 107.5 648.2 105.7 654.9 109.6C661.6 113.5 662.2 113.7 662.2 119.4C662.2 125.2 663.4 124.9 654.9 126.7C646.4 128.6 647.0 124.3 636.6 124.9C626.3 125.5 629.3 125.9 623.9 128.6C618.4 131.2 623.3 131.5 620.2 132.9C617.2 134.4 614.1 136.8 614.7 132.9C615.4 129.1 616.0 128.8 622.0 121.3C628.1 113.7 626.3 114.8 633.0 110.3Z" fill="#101010"/>
<path d="M633.0 117.6C634.8 114.3 636.0 114.5 640.3 115.1C644.5 115.7 645.2 116.2 645.8 119.4C646.4 122.7 645.8 123.1 642.1 124.9C638.5 126.7 637.9 127.4 634.8 124.9C631.8 122.5 631.2 120.9 633.0 117.6Z" fill="#8c8c8c"/>
<path d="M662.2 108.5C667.1 103.0 668.3 104.8 676.8 104.8C685.3 104.8 684.1 99.4 687.7 108.5C691.4 117.6 693.8 124.3 687.7 132.2C681.7 140.1 678.0 135.9 669.5 132.2C661.0 128.6 664.6 129.2 662.2 121.3C659.8 113.4 657.3 114.0 662.2 108.5Z" fill="#dcdcdc"/>
<path d="M678.6 68.4C681.0 64.7 683.5 60.4 685.9 68.4C688.3 76.3 687.5 84.8 685.9 92.1C684.3 99.4 683.6 94.5 681.2 90.2C678.7 86.0 679.5 86.6 678.6 79.3C677.8 72.0 676.2 72.0 678.6 68.4Z" fill="#5a5a5a"/>
<path d="M665.8 99.4C667.1 96.6 670.1 95.7 676.8 95.7C683.5 95.7 682.9 96.6 685.9 99.4C689.0 102.2 690.2 102.5 685.9 104.1C681.7 105.7 679.8 105.7 673.1 104.1C666.4 102.5 664.6 102.2 665.8 99.4Z" fill="#2a2a2a"/>
</g><g filter="url(#b4)">
<path d="M585.5 50.7C585.8 47.1 585.7 46.9 589.6 43.7C593.5 40.5 593.4 40.1 600.1 38.6C606.9 37.2 606.0 37.2 614.7 38.2C623.5 39.3 624.2 40.2 633.0 42.6C641.8 45.1 639.8 44.2 647.6 47.4C655.4 50.6 655.4 50.6 662.2 54.7C669.0 58.8 667.8 57.7 673.1 62.7C678.5 67.7 678.4 67.6 682.3 73.3C686.2 78.9 687.3 80.6 687.7 83.9C688.2 87.2 686.8 88.3 684.1 85.7C681.4 83.1 681.4 79.7 677.5 74.0C673.6 68.4 674.7 69.3 669.5 64.5C664.2 59.8 664.6 59.7 657.8 56.1C651.0 52.5 651.3 52.5 643.9 51.0C636.5 49.6 636.4 50.0 630.1 50.7C623.7 51.3 626.3 52.0 620.2 53.6C614.2 55.1 613.8 55.7 607.4 56.5C601.1 57.3 601.6 56.3 596.5 56.5C591.4 56.7 591.4 58.8 588.5 57.2C585.5 55.7 585.3 54.3 585.5 50.7Z" fill="#050505"/>
</g><g filter="url(#b2)" stroke="#282828" stroke-width="0.6" stroke-linejoin="round">
<path d="M596.5 55.8L605.6 55.8L605.6 60.5L596.5 60.5Z" fill="#1414c8"/>
<path d="M593.8 63.1C594.7 61.5 594.8 59.6 598.3 58.7C601.8 57.8 611.3 57.0 614.7 57.6C618.2 58.1 618.1 59.1 618.8 62.0C619.4 64.8 619.4 72.3 618.8 74.7C618.1 77.2 616.6 76.1 614.7 76.9C612.9 77.7 609.6 78.5 607.8 79.5C606.0 80.5 605.2 82.7 603.8 83.1C602.4 83.6 600.8 83.1 599.4 82.0C598.1 81.0 596.3 78.5 595.8 76.9C595.3 75.4 597.0 74.4 596.5 72.9C596.0 71.4 593.3 69.5 592.8 67.8C592.4 66.2 592.8 64.6 593.8 63.1Z" fill="#20e820"/>
<path d="M616.9 56.9L625.0 57.6L632.3 64.9L637.7 70.4L637.7 79.5L632.3 85.0L628.6 87.9L623.1 87.9L623.1 81.3L618.8 77.7L618.8 62.0Z" fill="#2a2ae6"/>
<path d="M583.7 71.5L592.1 65.6L594.7 72.9L593.9 79.5L599.4 83.1L599.4 96.6L583.0 96.6L583.0 92.3L577.5 89.7L577.5 82.0L583.0 79.5Z" fill="#20e8e8"/>
<path d="M605.6 79.5C606.7 78.3 609.3 78.2 611.5 77.7C613.6 77.2 616.8 75.8 618.8 76.6C620.7 77.3 622.4 80.0 623.1 82.0C623.9 84.1 623.9 86.9 623.1 88.6C622.4 90.3 621.0 91.2 618.8 92.3C616.5 93.3 611.3 95.5 609.6 94.8C607.9 94.1 609.3 89.5 608.5 87.9C607.7 86.2 605.4 86.4 604.9 85.0C604.4 83.6 604.5 80.7 605.6 79.5Z" fill="#f02020"/>
<path d="M599.4 83.9L604.9 85.7L608.5 88.6L608.5 96.6L599.4 96.6Z" fill="#ee22ee"/>
</g></g>
<text x="492.3" y="148.7" font-size="14.7" style="white-space:pre">z = 0</text>
<text x="606.6" y="148.7" font-size="14.7" style="white-space:pre">x = 14</text>
<rect x="101.7" y="231.2" width="25.5" height="44.5" fill="#087d96"/>
<rect x="127.2" y="261.9" width="25.5" height="13.8" fill="#9c0000"/>
<rect x="178.9" y="275.7" width="25.5" height="2.9" fill="#087d96"/>
<rect x="204.4" y="218.8" width="25.5" height="56.9" fill="#9c0000"/>
<rect x="256.1" y="252.6" width="25.5" height="23.1" fill="#087d96"/>
<rect x="281.6" y="218.2" width="25.5" height="57.5" fill="#9c0000"/>
<rect x="333.3" y="262.9" width="25.5" height="12.8" fill="#087d96"/>
<rect x="358.8" y="260.2" width="25.5" height="15.5" fill="#9c0000"/>
<rect x="410.5" y="270.4" width="25.5" height="5.3" fill="#087d96"/>
<rect x="436.0" y="249.6" width="25.5" height="26.1" fill="#9c0000"/>
<rect x="487.7" y="254.3" width="25.5" height="21.4" fill="#087d96"/>
<rect x="513.2" y="247.1" width="25.5" height="28.6" fill="#9c0000"/>
<line x1="88.6" y1="275.7" x2="552" y2="275.7" stroke="#111" stroke-width="1.4"/>
<path d="M114.5 231.2V225.8M107.2 225.8H121.8" stroke="#000" stroke-width="1.6" fill="none"/>
<path d="M139.9 261.9V256.3M132.6 256.3H147.2" stroke="#000" stroke-width="1.6" fill="none"/>
<path d="M191.7 278.6V288.4M184.3 288.4H199.0" stroke="#000" stroke-width="1.6" fill="none"/>
<path d="M217.2 218.8V211.7M209.8 211.7H224.5" stroke="#000" stroke-width="1.6" fill="none"/>
<path d="M268.9 252.6V244.9M261.6 244.9H276.2" stroke="#000" stroke-width="1.6" fill="none"/>
<path d="M294.4 218.2V210.4M287.1 210.4H301.7" stroke="#000" stroke-width="1.6" fill="none"/>
<path d="M346.1 262.9V257.1M338.8 257.1H353.4" stroke="#000" stroke-width="1.6" fill="none"/>
<path d="M371.6 260.2V255.3M364.2 255.3H378.9" stroke="#000" stroke-width="1.6" fill="none"/>
<path d="M423.2 270.4V263.3M415.9 263.3H430.6" stroke="#000" stroke-width="1.6" fill="none"/>
<path d="M448.8 249.6V243.4M441.4 243.4H456.1" stroke="#000" stroke-width="1.6" fill="none"/>
<path d="M500.4 254.3V248.9M493.1 248.9H507.8" stroke="#000" stroke-width="1.6" fill="none"/>
<path d="M526.0 247.1V240.8M518.7 240.8H533.2" stroke="#000" stroke-width="1.6" fill="none"/>
<path d="M88.6 186.1V305.4M88.1 305.4H552.6" stroke="#000" stroke-width="1.2" fill="none"/>
<line x1="83.3" y1="186.6" x2="88.6" y2="186.6" stroke="#000" stroke-width="1.2"/>
<text x="80.6" y="190.3" font-size="11" text-anchor="end">0.3</text>
<line x1="83.3" y1="216.3" x2="88.6" y2="216.3" stroke="#000" stroke-width="1.2"/>
<text x="80.6" y="220.0" font-size="11" text-anchor="end">0.2</text>
<line x1="83.3" y1="246.0" x2="88.6" y2="246.0" stroke="#000" stroke-width="1.2"/>
<text x="80.6" y="249.7" font-size="11" text-anchor="end">0.1</text>
<line x1="83.3" y1="275.7" x2="88.6" y2="275.7" stroke="#000" stroke-width="1.2"/>
<text x="80.6" y="279.4" font-size="11" text-anchor="end">0.0</text>
<line x1="83.3" y1="305.4" x2="88.6" y2="305.4" stroke="#000" stroke-width="1.2"/>
<text x="80.6" y="309.1" font-size="11" text-anchor="end">-0.1</text>
<line x1="127.2" y1="305.4" x2="127.2" y2="308.6" stroke="#000" stroke-width="1.2"/>
<text x="104.7" y="317.7" font-size="11">Prefrontal</text>
<line x1="204.4" y1="305.4" x2="204.4" y2="308.6" stroke="#000" stroke-width="1.2"/>
<text x="193.6" y="317.7" font-size="11">Motor</text>
<line x1="281.6" y1="305.4" x2="281.6" y2="308.6" stroke="#000" stroke-width="1.2"/>
<text x="246.5" y="317.7" font-size="11">Somatosensory</text>
<line x1="358.8" y1="305.4" x2="358.8" y2="308.6" stroke="#000" stroke-width="1.2"/>
<text x="345.3" y="317.7" font-size="11">Parietal</text>
<line x1="436.0" y1="305.4" x2="436.0" y2="308.6" stroke="#000" stroke-width="1.2"/>
<text x="416.4" y="317.7" font-size="11">Temporal</text>
<line x1="513.2" y1="305.4" x2="513.2" y2="308.6" stroke="#000" stroke-width="1.2"/>
<text x="497.1" y="317.7" font-size="11">Occipital</text>
<text x="232.8" y="336.3" font-size="14.7">Thalamic-Cortical Network</text>
<text transform="translate(52.8 296.8) rotate(-90)" font-size="11">Functional Connectivity</text>
<path d="M113.7 217.8V210H139.3V249.2M126.5 210V202.9" stroke="#1a1a1a" stroke-width="0.9" fill="none"/>
<text class="s" x="126.5" y="203.7" font-size="15" text-anchor="middle">***</text>
<path d="M191.3 269V184.2H217.7V204.5M204.5 184.2V176.9" stroke="#1a1a1a" stroke-width="0.9" fill="none"/>
<text class="s" x="203.5" y="179.3" font-size="15" text-anchor="middle">***</text>
<path d="M268.5 237.3V188.5H294.5V203.5M281.5 188.5V181" stroke="#1a1a1a" stroke-width="0.9" fill="none"/>
<text class="s" x="281.9" y="183.3" font-size="15" text-anchor="middle">*</text>
<rect x="514.9" y="180.8" width="18" height="10.3" fill="#087d96"/>
<rect x="514.9" y="204" width="18" height="10.3" fill="#9c0000"/>
<text x="543" y="190.3" font-size="12.4">Healthy Subjects</text>
<text x="543" y="213.7" font-size="12.4">Schizophrenia Patients</text>
</svg></body></html>
